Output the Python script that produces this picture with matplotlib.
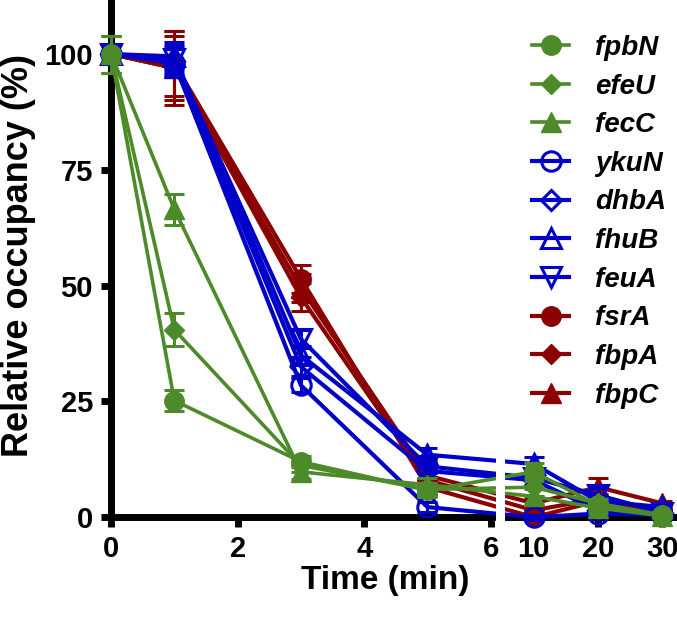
import numpy as np
import matplotlib
matplotlib.use("Agg")
import matplotlib.pyplot as plt

# ── Data ──────────────────────────────────────────────────────────────────────
time_min = [0, 1, 3, 5, 10, 20, 30]

genes = ["fpbN", "efeU", "fecC", "ykuN", "dhbA", "fhuB", "feuA",
         "fsrA", "fbpA", "fbpC"]

fpbN = [100, 25.2, 12.0, 5.8, 9.8, 2.6, 0.5]
efeU = [100, 40.5, 11.2, 6.0, 6.5, 3.0, 0.5]
fecC = [100, 66.5, 9.8, 7.0, 4.5, 2.0, 0.3]
ykuN = [100, 98.0, 28.5, 2.2, 0.0, 0.8, 0.5]
dhbA = [100, 98.5, 32.5, 10.0, 8.0, 1.5, 1.0]
fhuB = [100, 99.5, 35.0, 13.5, 11.5, 3.5, 2.2]
feuA = [100, 99.0, 38.5, 11.0, 8.5, 4.8, 1.0]
fsrA = [100, 98.0, 51.5, 6.5, 0.0, 3.5, 1.0]
fbpA = [100, 97.0, 47.5, 8.0, 1.5, 4.0, 1.5]
fbpC = [100, 97.0, 49.5, 9.0, 3.0, 6.5, 3.0]

fpbN_err = [4, 2.3, 1.2, 1.5, 2.0, 1.0, 0.5]
efeU_err = [4, 3.5, 1.5, 1.5, 2.0, 1.0, 0.5]
fecC_err = [4, 3.3, 1.5, 1.5, 1.5, 1.0, 0.5]
ykuN_err = [2, 3.0, 1.5, 1.0, 0.5, 0.5, 0.5]
dhbA_err = [2, 3.0, 2.0, 1.5, 1.0, 1.0, 0.5]
fhuB_err = [2, 3.0, 2.0, 1.5, 1.5, 1.0, 0.5]
feuA_err = [2, 3.0, 2.0, 1.5, 1.5, 1.5, 0.5]
fsrA_err = [2, 7.0, 3.0, 1.5, 0.5, 1.0, 0.5]
fbpA_err = [2, 7.0, 3.0, 1.5, 1.0, 1.0, 0.5]
fbpC_err = [2, 8.0, 3.0, 1.5, 1.0, 2.0, 0.5]

x_ticks = [0, 2, 4, 6, 10, 20, 30]
y_ticks = [0, 25, 50, 75, 100]

# ── Style ─────────────────────────────────────────────────────────────────────
GREEN = "#4C8A2A"
BLUE  = "#0000C8"
RED   = "#8B0000"

plt.rcParams["font.family"] = ["Liberation Sans", "DejaVu Sans"]

values = dict(fpbN=fpbN, efeU=efeU, fecC=fecC, ykuN=ykuN, dhbA=dhbA,
              fhuB=fhuB, feuA=feuA, fsrA=fsrA, fbpA=fbpA, fbpC=fbpC)
errors = dict(fpbN=fpbN_err, efeU=efeU_err, fecC=fecC_err, ykuN=ykuN_err,
              dhbA=dhbA_err, fhuB=fhuB_err, feuA=feuA_err, fsrA=fsrA_err,
              fbpA=fbpA_err, fbpC=fbpC_err)
style = {
    "fpbN": (GREEN, "o", True),  "efeU": (GREEN, "D", True),
    "fecC": (GREEN, "^", True),  "ykuN": (BLUE, "o", False),
    "dhbA": (BLUE, "D", False),  "fhuB": (BLUE, "^", False),
    "feuA": (BLUE, "v", False),  "fsrA": (RED, "o", True),
    "fbpA": (RED, "D", True),    "fbpC": (RED, "^", True),
}
msize = {"o": 14, "D": 10.5, "^": 14, "v": 14}

# ── Broken x axis: 0-6 linear, then compressed 10-30 ─────────────────────────
XB = [-100, 6, 10, 100]
UB = [-100, 6, 6.68, 6.68 + 90 * 0.1015]

def fwd(x):
    return np.interp(x, XB, UB)

def inv(u):
    return np.interp(u, UB, XB)

fig = plt.figure(figsize=(6.77, 6.18), dpi=100)
ax = fig.add_axes([0.164, 0.163, 0.836, 0.832])
ax.set_xscale("function", functions=(fwd, inv))

handles = {}
# draw order: red below, then blue, then green on top
for i, g in enumerate(genes[7:] + genes[3:7] + genes[:3]):
    col, mk, filled = style[g]
    lw = 2.6 if col == GREEN else 3.0
    z = 3 + i * 0.1
    eb = ax.errorbar(time_min, values[g], yerr=errors[g], fmt="none",
                     ecolor=col, elinewidth=2.2, capsize=7, capthick=2.2,
                     zorder=z)
    for art in eb.lines[1] + eb.lines[2]:
        art.set_clip_on(False)
    ln, = ax.plot(time_min, values[g], color=col, linewidth=lw,
                  marker=mk, markersize=msize[mk],
                  markerfacecolor=col if filled else "none",
                  markeredgecolor=col, markeredgewidth=1 if filled else 2.2,
                  zorder=z + 0.05, clip_on=False, label=g)
    handles[g] = ln

# white gap that breaks the axis and the lines
ax.axvspan(6.45, 7.3, ymin=-0.03, ymax=1.0, color="white", zorder=10,
           clip_on=False, linewidth=0)

ax.set_xlim(0, 32.3)
ax.set_ylim(0, 111)
ax.set_xticks(x_ticks)
ax.set_xticklabels([str(t) for t in x_ticks])
ax.set_yticks(y_ticks)
ax.minorticks_off()

for s in ["top", "right"]:
    ax.spines[s].set_visible(False)
for s in ["left", "bottom"]:
    ax.spines[s].set_linewidth(5)
    ax.spines[s].set_zorder(2.5)
ax.tick_params(axis="both", direction="out", length=7, width=5,
               labelsize=21, pad=6)
for lab in ax.get_xticklabels() + ax.get_yticklabels():
    lab.set_fontweight("bold")

ax.set_xlabel("Time (min)", fontsize=24, fontweight="bold")
ax.xaxis.set_label_coords(0.484, -0.093)
ax.set_ylabel("Relative occupancy (%)", fontsize=26, fontweight="bold")
ax.yaxis.set_label_coords(-0.132, 0.51)

leg = fig.legend([handles[g] for g in genes], genes,
                 loc="upper left", bbox_to_anchor=(0.766, 0.966),
                 frameon=False, borderpad=0, handlelength=1.3,
                 handletextpad=0.95, labelspacing=0.455,
                 prop={"size": 20, "weight": "bold", "style": "italic"})

fig.savefig("out.png", dpi=100)
